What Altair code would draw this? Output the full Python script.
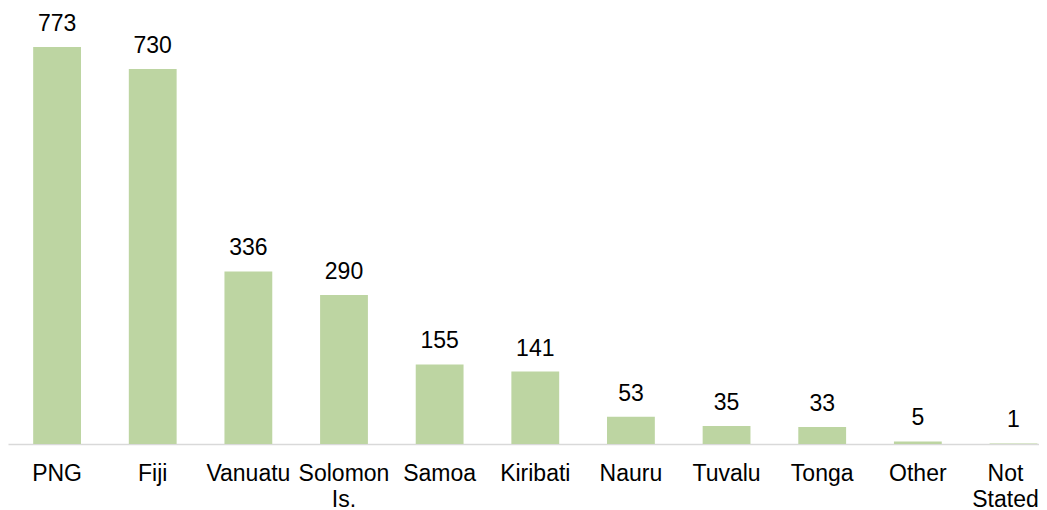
import altair as alt
import pandas as pd

categories = ["PNG", "Fiji", "Vanuatu", "Solomon Is.", "Samoa", "Kiribati",
              "Nauru", "Tuvalu", "Tonga", "Other", "Not Stated"]
values = [773, 730, 336, 290, 155, 141, 53, 35, 33, 5, 1]

df = pd.DataFrame({"country": categories, "count": values})

x = alt.X("country:N", sort=categories, title=None,
          scale=alt.Scale(paddingInner=0.5, paddingOuter=0.14, align=0.94),
          axis=alt.Axis(labelAngle=0, ticks=False, domainColor="#D9D9D9",
                        domainWidth=1.5, labelFont="Liberation Sans",
                        labelFontSize=23, labelColor="#000000", labelPadding=18,
                        labelLineHeight=26, labelOverlap=False, labelBound=False,
                        labelOffset={"condition": {"test": "datum.value == 'Not Stated'",
                                                   "value": -8},
                                     "value": 0},
                        labelExpr="split(datum.value, ' ')"))
y = alt.Y("count:Q", scale=alt.Scale(domain=[0, 849], nice=False, zero=True),
          axis=None)

bars = alt.Chart(df).mark_bar(color="#BDD5A2").encode(x=x, y=y)
labels = alt.Chart(df).mark_text(font="Liberation Sans", fontSize=23,
                                 color="#000000", baseline="alphabetic",
                                 dy=-16).encode(x=x, y=y, text="count:Q")

chart = (bars + labels).properties(
    width=1031, height=436,
    autosize=alt.AutoSizeParams(type="none"),
    padding={"left": 0, "top": 0, "right": 0, "bottom": 66},
).configure_view(stroke=None)

chart.save("out.html", embed_options={"renderer": "svg", "actions": False})
